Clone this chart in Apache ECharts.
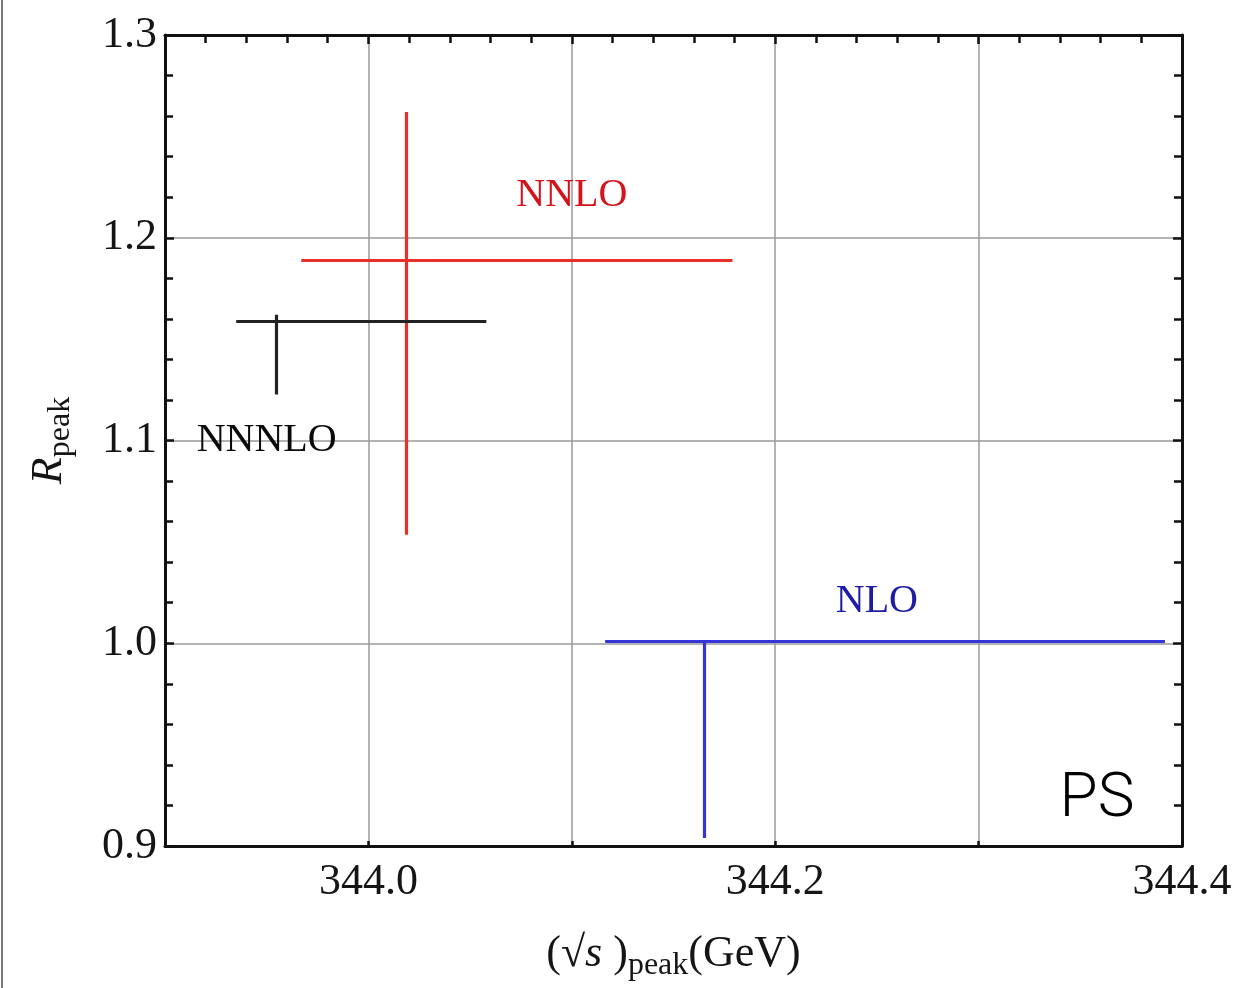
<!DOCTYPE html>
<html>
<head>
<meta charset="utf-8">
<script src="https://cdn.jsdelivr.net/npm/echarts@6/dist/echarts.min.js"></script>
<style>html,body{margin:0;padding:0;background:#fff;}#c{width:1246px;height:988px;}</style>
</head>
<body>
<div id="c"></div>
<script>
// ---- data ----
const names   = ['NNLO', 'NNNLO', 'NLO'];
const colors  = ['#e8302a', '#222222', '#3535d8'];
const textColors = ['#d4141c', '#0a0a0a', '#1c1ca6'];
const centerX = [344.0186, 343.9547, 344.165];
const centerY = [1.189, 1.1586, 1.0012];
const xLow    = [343.967, 343.935, 344.1164];
const xHigh   = [344.179, 344.058, 344.3916];
const yLow    = [1.0535, 1.1227, 0.904];
const yHigh   = [1.262, 1.162, 1.0012];
const labelX  = [344.1, 343.950, 344.25];
const labelY  = [1.221, 1.1, 1.0205];
const xMin = 343.9, xMax = 344.4, xInterval = 0.1;
const yMin = 0.9, yMax = 1.3, yInterval = 0.1;

const serif = 'Liberation Serif';
const chart = echarts.init(document.getElementById('c'));

const errSeries = names.map((n, i) => ({
  type: 'lines',
  coordinateSystem: 'cartesian2d',
  name: n,
  silent: true,
  lineStyle: { color: colors[i], width: 3.2, opacity: 1 },
  data: [
    { coords: [[xLow[i], centerY[i]], [xHigh[i], centerY[i]]] },
    { coords: [[centerX[i], yLow[i]], [centerX[i], yHigh[i]]] }
  ],
  z: 5
}));

const labelSeries = {
  type: 'scatter',
  symbol: 'circle',
  symbolSize: 1,
  itemStyle: { color: 'rgba(0,0,0,0)' },
  silent: true,
  data: names.map((n, i) => ({
    value: [labelX[i], labelY[i]],
    name: n,
    label: {
      show: true, position: 'inside', formatter: n, opacity: 1,
      color: textColors[i], fontFamily: serif, fontSize: 40
    }
  })),
  z: 6
};

const axisCommon = {
  type: 'value',
  axisLine: { show: true, onZero: false, lineStyle: { color: '#111', width: 3 } },
  axisTick: { show: true, inside: true, length: 9, lineStyle: { color: '#111', width: 2.5 } },
  minorTick: { show: true, splitNumber: 5, length: 8, lineStyle: { color: '#111', width: 2.5 } },
};

chart.setOption({
  animation: false,
  backgroundColor: '#fff',
  grid: { left: 165, right: 64, top: 35, bottom: 142 },
  xAxis: [
    Object.assign({}, axisCommon, {
      position: 'bottom',
      min: xMin, max: xMax, interval: xInterval,
      minorTick: { show: false },
      axisTick: { show: true, inside: true, length: 5, lineStyle: { color: '#111', width: 2.5 } },
      splitLine: { show: true, lineStyle: { color: '#9a9a9a', width: 1.5 } },
      axisLabel: {
        margin: 14, color: '#151515', fontFamily: serif, fontSize: 44,
        formatter: v => { const k = Math.round(v * 10); return (k % 2 === 0 && k !== 3439) ? (k / 10).toFixed(1) : ''; }
      },
      name: '{p|(√}{s|s}{p| )}{sub|peak}{p|(GeV)}',
      nameLocation: 'middle', nameGap: 80,
      nameTextStyle: {
        rich: {
          p: { fontFamily: serif, fontSize: 44, color: '#151515', lineHeight: 56, verticalAlign: 'middle' },
          s: { fontFamily: serif, fontStyle: 'italic', fontSize: 44, color: '#151515', lineHeight: 56, verticalAlign: 'middle' },
          sub: { fontFamily: serif, fontSize: 32, color: '#151515', lineHeight: 56, verticalAlign: 'bottom', padding: [18, 0, 0, 0] }
        }
      }
    }),
    Object.assign({}, axisCommon, {
      position: 'top',
      min: xMin, max: xMax, interval: xInterval,
      splitLine: { show: false },
      axisLabel: { show: false }
    })
  ],
  yAxis: [
    Object.assign({}, axisCommon, {
      position: 'left',
      min: yMin, max: yMax, interval: yInterval,
      splitLine: { show: true, lineStyle: { color: '#9a9a9a', width: 1.5 } },
      axisLabel: {
        margin: 8, color: '#151515', fontFamily: serif, fontSize: 44,
        formatter: v => v.toFixed(1)
      },
      name: '{r|R}{sub|peak}',
      nameLocation: 'middle', nameGap: 88, nameRotate: 90,
      nameTextStyle: {
        rich: {
          r: { fontFamily: serif, fontStyle: 'italic', fontSize: 44, color: '#151515', lineHeight: 56, verticalAlign: 'middle' },
          sub: { fontFamily: serif, fontSize: 32, color: '#151515', lineHeight: 56, verticalAlign: 'bottom', padding: [18, 0, 0, 0] }
        }
      }
    }),
    Object.assign({}, axisCommon, {
      position: 'right',
      min: yMin, max: yMax, interval: yInterval,
      splitLine: { show: false },
      axisLabel: { show: false }
    })
  ],
  series: errSeries.concat([labelSeries]),
  graphic: [
    { type: 'rect', shape: { x: 1, y: 0, width: 2, height: 988 }, style: { fill: '#777' } },
    { type: 'text', x: 1097, y: 800, style: { text: 'PS', fontFamily: 'Roboto', fontWeight: 300, fontSize: 62, fill: '#000', align: 'center', verticalAlign: 'middle' } }
  ]
});
</script>
</body>
</html>
